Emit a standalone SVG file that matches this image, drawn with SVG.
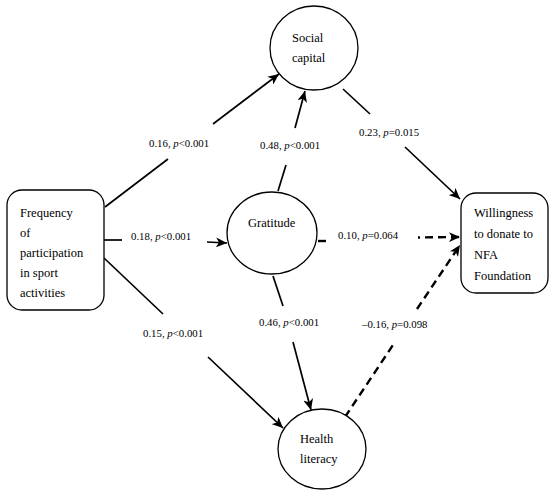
<svg xmlns="http://www.w3.org/2000/svg" width="550" height="495" viewBox="0 0 550 495">
<style>
.node{fill:#fff;stroke:#000;stroke-width:1.3}
.nt{font-family:"Liberation Serif",serif;font-size:12.5px;fill:#000}
.lb{font-family:"Liberation Serif",serif;font-size:10.8px;fill:#000}
.s{fill:none;stroke:#000;stroke-width:1.7}
.d{fill:none;stroke:#000;stroke-width:2.4;stroke-dasharray:8,5}
</style>
<defs>
<marker id="ah" markerUnits="userSpaceOnUse" markerWidth="12" markerHeight="10" viewBox="0 0 12 10" refX="11" refY="5" orient="auto">
<path d="M0,0 L11,5 L0,10 L3,5 z" fill="#000"/>
</marker>
</defs>
<rect width="550" height="495" fill="#fff"/>
<g id="connectors">
<line class="s" x1="105" y1="207" x2="168" y2="159"/>
<line class="s" x1="213" y1="124" x2="279" y2="74" marker-end="url(#ah)"/>
<line class="s" x1="104" y1="240" x2="122" y2="240"/>
<line class="s" x1="207" y1="242" x2="227" y2="243" marker-end="url(#ah)"/>
<line class="s" x1="104" y1="258" x2="163" y2="314"/>
<line class="s" x1="208" y1="357" x2="283" y2="428" marker-end="url(#ah)"/>
<line class="s" x1="343" y1="89" x2="370" y2="114"/>
<line class="s" x1="405" y1="147" x2="460" y2="199" marker-end="url(#ah)"/>
<line class="s" x1="278" y1="191" x2="286" y2="165"/>
<line class="s" x1="295" y1="128" x2="305" y2="91" marker-end="url(#ah)"/>
<line class="s" x1="273" y1="276" x2="283" y2="306"/>
<line class="s" x1="293" y1="342" x2="311" y2="410" marker-end="url(#ah)"/>
<line class="d" x1="318" y1="241" x2="326" y2="241"/>
<line class="d" x1="418" y1="237.5" x2="460" y2="237" stroke-dashoffset="6" marker-end="url(#ah)"/>
<line class="d" x1="345" y1="417" x2="393" y2="345"/>
<line class="d" x1="417" y1="309" x2="460" y2="245" marker-end="url(#ah)"/>
</g>
<g id="labels">
<text class="lb" x="149" y="147">0.16, <tspan font-style="italic">p</tspan>&lt;0.001</text>
<text class="lb" x="260" y="149">0.48, <tspan font-style="italic">p</tspan>&lt;0.001</text>
<text class="lb" x="359" y="136">0.23, <tspan font-style="italic">p</tspan>=0.015</text>
<text class="lb" x="131" y="240">0.18, <tspan font-style="italic">p</tspan>&lt;0.001</text>
<text class="lb" x="338" y="239">0.10, <tspan font-style="italic">p</tspan>=0.064</text>
<text class="lb" x="143" y="337">0.15, <tspan font-style="italic">p</tspan>&lt;0.001</text>
<text class="lb" x="259" y="326">0.46, <tspan font-style="italic">p</tspan>&lt;0.001</text>
<text class="lb" x="362" y="328">–0.16, <tspan font-style="italic">p</tspan>=0.098</text>
</g>
<g id="frequency">
<rect class="node" x="7" y="190" width="97" height="120" rx="15"/>
<text class="nt" x="20" y="217">Frequency</text>
<text class="nt" x="20" y="237">of</text>
<text class="nt" x="20" y="257">participation</text>
<text class="nt" x="20" y="277">in sport</text>
<text class="nt" x="20" y="297">activities</text>
</g>
<g id="social-capital">
<ellipse class="node" cx="314" cy="48" rx="44" ry="42"/>
<text class="nt" x="292" y="42">Social</text>
<text class="nt" x="292" y="62">capital</text>
</g>
<g id="gratitude">
<ellipse class="node" cx="272" cy="233" rx="45" ry="41"/>
<text class="nt" x="248" y="227">Gratitude</text>
</g>
<g id="health-literacy">
<ellipse class="node" cx="322" cy="449" rx="44" ry="40"/>
<text class="nt" x="300" y="443">Health</text>
<text class="nt" x="300" y="463">literacy</text>
</g>
<g id="willingness">
<rect class="node" x="461" y="193" width="87" height="100" rx="15"/>
<text class="nt" x="474" y="217">Willingness</text>
<text class="nt" x="474" y="238">to donate to</text>
<text class="nt" x="474" y="259">NFA</text>
<text class="nt" x="474" y="280">Foundation</text>
</g>
</svg>
